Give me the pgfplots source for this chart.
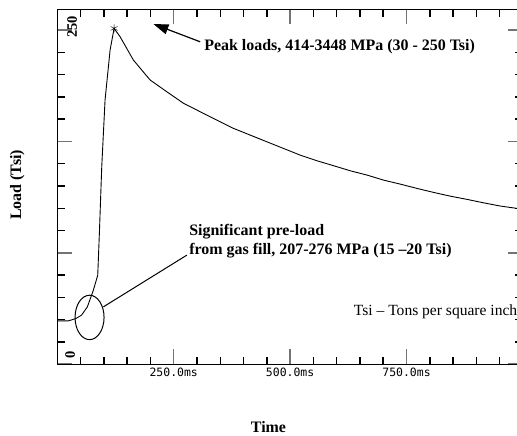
\documentclass[border=0pt]{standalone}
\usepackage{fontspec}
\setmainfont{Liberation Serif}
\newfontfamily\monofont{DejaVu Sans Mono}
\usepackage{pgfplots}
\pgfplotsset{compat=1.18}
\usetikzlibrary{arrows.meta}
\newcommand\bfann{\bfseries\fontsize{16}{18}\selectfont}

\begin{document}
\begin{tikzpicture}
\begin{axis}[
  name=ax,
  scale only axis,
  width=465.3bp, height=354.7bp,
  xmin=0, xmax=1000, ymin=0, ymax=265.5,
  xtick={0,250,500,750,1000},
  xticklabels={,250.0ms,500.0ms,750.0ms,},
  minor xtick={50,100,150,200,300,350,400,450,550,600,650,700,800,850,900,950},
  ytick={0,83.333,166.667,250},
  yticklabels={},
  minor ytick={16.667,33.333,50,66.667,100,116.667,133.333,150,183.333,200,216.667,233.333},
  xtick pos=both, ytick pos=both, tick align=inside,
  major tick length=15bp, minor tick length=7.5bp,
  major tick style={black!55, line width=1.5pt},
  minor tick style={black, line width=1.5pt},
  axis line style={line width=1.1pt},
  x tick label style={font=\fontsize{11.5}{12}\monofont, black},
  clip=false,
]
% load trace
\addplot[black, line width=0.9pt] coordinates {
  (0,32.4) (23.6,32.4) (40,34.2) (52,36.7) (64.5,42.9) (77.4,55.4)
  (86.8,66.6) (90.3,97.8) (95.4,147.7) (102.5,197.6) (113.3,235) (121.9,251.2)
  (134.8,245) (163.4,227.5) (199.3,212.6) (235.2,203.8) (270.9,195.2)
  (306.7,188.9) (342.6,182.6) (378.5,176.4) (414.2,171.4) (450,166.4)
  (485.8,161.4) (521.7,156.4) (557.6,152.2) (593.3,148.5) (629.2,144.7)
  (665.1,141.5) (700.9,137.7) (736.8,134.7) (772.6,131.5) (808.4,128.5)
  (844.2,125.7) (880.1,123.3) (916,120.7) (951.8,118.3) (988.6,116.5)
};
% peak marker
\addplot[black, only marks, mark=asterisk, mark size=4bp] coordinates {(121.9,251.2)};

\draw[-{Triangle[length=15bp,width=10bp]}, line width=1.2pt]
  (axis cs:306.8,241.2) -- (axis cs:206.4,254.5);
\node[anchor=base west, inner sep=0pt, font=\bfann] at (axis cs:315.3,235)
  {Peak loads, 414-3448 MPa (30 - 250 Tsi)};

\draw[line width=1pt] (axis cs:69.2,35) ellipse [x radius=14.5bp, y radius=22.2bp];
\draw[line width=1pt] (axis cs:98.9,42.9) -- (axis cs:278.2,81.6);
\node[anchor=base west, inner sep=0pt, font=\bfann] at (axis cs:283,96.6)
  {Significant pre-load};
\node[anchor=base west, inner sep=0pt, font=\bfann] at (axis cs:283,82.3)
  {from gas fill, 207-276 MPa (15 –20 Tsi)};

\node[anchor=base east, inner sep=0pt, font=\fontsize{15.6}{18}\selectfont]
  at (axis cs:988.2,36.7) {Tsi – Tons per square inch};

\node[rotate=90, inner sep=0pt, font=\bfseries\fontsize{14.5}{15}\selectfont]
  at (axis cs:31.6,252.5) {250};
\node[rotate=90, inner sep=0pt, font=\bfseries\fontsize{14.5}{15}\selectfont]
  at (axis cs:27.3,6.7) {0};

\node[rotate=90, font=\bfann] at (rel axis cs:-0.086,0.505) {Load (Tsi)};
\node[font=\bfann] at (rel axis cs:0.4535,-0.177) {Time};
\end{axis}
\pgfresetboundingbox
\path ([xshift=-57.3bp,yshift=-71bp]ax.south west)
  rectangle ([xshift=-5.9bp,yshift=9.3bp]ax.north east);
\end{tikzpicture}
\end{document}
